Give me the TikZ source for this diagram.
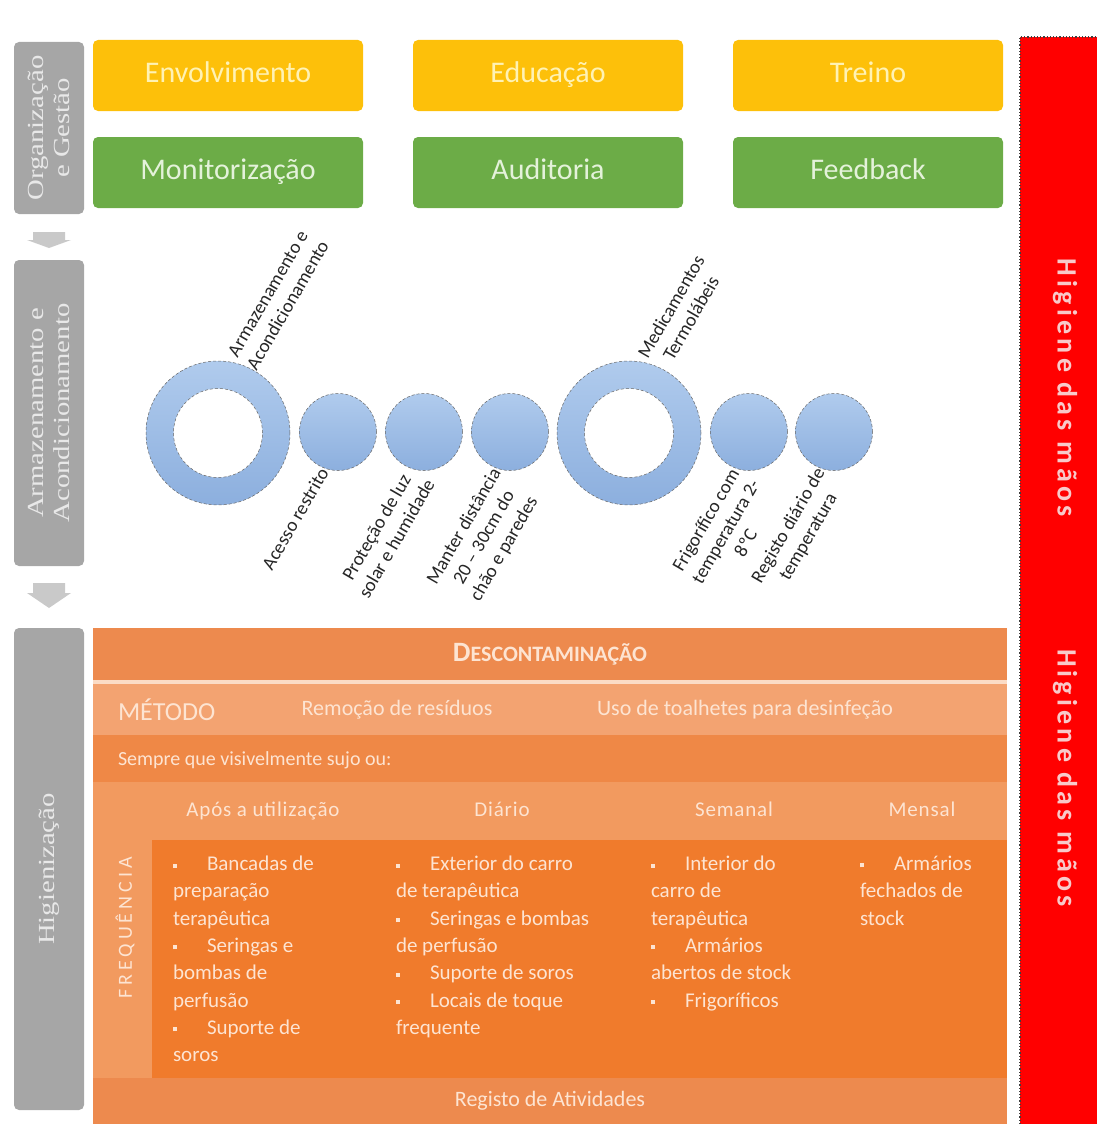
\documentclass[tikz,border=0pt]{standalone}
\usepackage{fontspec}
\setmainfont{Carlito}
\newfontfamily\barfont{Liberation Serif}
\usetikzlibrary{positioning,calc}

\definecolor{barGray}{HTML}{A6A6A6}
\definecolor{barText}{HTML}{E8E8E8}
\definecolor{arrowGray}{HTML}{C9C9C9}
\definecolor{yellowBox}{HTML}{FDC00A}
\definecolor{yellowText}{HTML}{FFF2B4}
\definecolor{greenBox}{HTML}{6CAC47}
\definecolor{greenText}{HTML}{E4F2DA}
\definecolor{ringTop}{HTML}{B0CBED}
\definecolor{ringBot}{HTML}{8CAFDE}
\definecolor{handRed}{HTML}{FF0000}
\definecolor{handText}{HTML}{F8CACA}
\definecolor{oHead}{HTML}{ED8A4E}
\definecolor{oLine}{HTML}{FBDCC6}
\definecolor{oMethod}{HTML}{F3A371}
\definecolor{oAlways}{HTML}{EF8846}
\definecolor{oFreq}{HTML}{F29A5F}
\definecolor{oInner}{HTML}{F07B2C}
\definecolor{oText}{HTML}{FDE4D2}

\newcommand{\fs}[1]{\fontsize{#1}{#1}\selectfont}
\newcommand{\itm}{\rule[0.3ex]{4pt}{4pt}\hspace{30pt}}

\begin{document}
\begin{tikzpicture}[x=1pt, y=-1pt,
  every node/.style={inner sep=0pt, outer sep=0pt},
  sidebar/.style={fill=barGray, rounded corners=5pt, minimum width=70pt, anchor=north west},
  sidetext/.style={font=\barfont\fontsize{23}{26}\selectfont, text=barText, align=center, rotate=90, xscale=1.25},
  tile/.style={rounded corners=5pt, minimum width=270pt, minimum height=71pt, font=\fs{30}, text height=20pt, text depth=6pt},
  yellowtile/.style={tile, fill=yellowBox, text=yellowText},
  greentile/.style={tile, fill=greenBox, text=greenText},
  bigring/.style={circle, minimum size=144pt, draw=black!60, densely dashed, line width=0.5pt, top color=ringTop, bottom color=ringBot},
  hole/.style={circle, minimum size=89pt, draw=black!60, densely dashed, line width=0.5pt, fill=white},
  dot/.style={circle, minimum size=77pt, draw=black!60, densely dashed, line width=0.5pt, top color=ringTop, bottom color=ringBot},
  uplabel/.style={rotate=60, anchor=south west, align=center, font=\fontsize{19}{23}\selectfont, text=black!85, inner sep=1pt},
  lowlabel/.style={rotate=60, anchor=north east, align=center, font=\fontsize{19}{23}\selectfont, text=black!85, inner sep=1pt},
  band/.style={minimum width=914pt, anchor=north west},
  otext/.style={text=oText, font=\fs{22}},
  colhead/.style={text=oText, font=\fs{21}\addfontfeature{LetterSpace=4}, text height=15pt, text depth=5pt},
  itemlist/.style={anchor=north west, align=left, text=oText, font=\fontsize{21}{27.3}\selectfont},
  handtext/.style={rotate=-90, text=handText, font=\bfseries\fs{28}\addfontfeature{LetterSpace=15}},
]
\useasboundingbox (0,0) rectangle (1097,1124);

% Side bars
\node[sidebar, minimum height=172pt] (org) at (14,42) {};
\node[sidetext] at (org.center) {Organização\\e Gestão};
\node[sidebar, minimum height=306pt] (arm) at (14,260) {};
\node[sidetext] at (arm.center) {Armazenamento e\\Acondicionamento};
\node[sidebar, minimum height=482pt] (hig) at (14,628) {};
\node[sidetext] at (hig.center) {Higienização};

% Arrows between the bars
\fill[arrowGray] ($(org.south)+(-16,18)$) -- ++(32,0) -- ++(0,8) -- ++(6,0)
  -- ($(org.south)+(0,34)$) -- ($(org.south)+(-22,26)$) -- ++(6,0) -- cycle;
\fill[arrowGray] ($(arm.south)+(-16,17)$) -- ++(32,0) -- ++(0,10) -- ++(6,0)
  -- ($(arm.south)+(0,42)$) -- ($(arm.south)+(-22,27)$) -- ++(6,0) -- cycle;

% Organisation tiles
\node[yellowtile, anchor=north west] (envolv) at (93,40) {Envolvimento};
\node[yellowtile, right=50pt of envolv] (educ) {Educação};
\node[yellowtile, right=50pt of educ] (treino) {Treino};
\node[greentile, below=26pt of envolv] (monit) {Monitorização};
\node[greentile, below=26pt of educ] (audit) {Auditoria};
\node[greentile, below=26pt of treino] (feedb) {Feedback};

% Storage circles
\node[bigring] (ringA) at (218,433) {};
\node[hole] (holeA) at (ringA.center) {};
\node[dot] (restrito) at (338,432) {};
\node[dot] (luz) at (424,432) {};
\node[dot] (distancia) at (510,432) {};
\node[bigring] (ringB) at (629,433) {};
\node[hole] (holeB) at (ringB.center) {};
\node[dot] (frigo) at (749,432) {};
\node[dot] (regtemp) at (834,432) {};

\node[uplabel] at (ringA.57) {Armazenamento e\\Acondicionamento};
\node[uplabel] at (ringB.57) {Medicamentos\\Termolábeis};
\node[lowlabel] at (restrito.238) {Acesso restrito};
\node[lowlabel] at (luz.238) {Proteção de luz\\solar e humidade};
\node[lowlabel] at (distancia.238) {Manter distância\\20 – 30cm do\\chão e paredes};
\node[lowlabel] at (frigo.238) {Frigorífico com\\temperatura 2-\\8ºC};
\node[lowlabel] at (regtemp.238) {Registo diário de\\temperatura};

% Hand hygiene bar
\node[fill=handRed, minimum width=77pt, minimum height=1087pt, anchor=north west] (hands) at (1020,37) {};
\draw[black!75, dotted, line width=1.2pt] (hands.south west) -- (hands.north west) -- (hands.north east);
\node[handtext] at (1065,388) {Higiene das mãos};
\node[handtext] at (1065,778) {Higiene das mãos};

% Decontamination table
\node[band, fill=oHead, minimum height=52pt, text=oText, font=\bfseries] (descont) at (93,628)
  {{\fs{28}D}{\fs{22}ESCONTAMINAÇÃO}};
\node[band, fill=oLine, minimum height=4pt, below=0pt of descont] (divider) {};
\node[band, fill=oMethod, minimum height=51pt, below=0pt of divider] (metodo) {};
\node[band, fill=oAlways, minimum height=47pt, below=0pt of metodo] (sempre) {};
\node[band, fill=oFreq, minimum height=296pt, below=0pt of sempre] (freq) {};
\node[fill=oInner, minimum width=855pt, minimum height=238pt, anchor=south east] (inner) at (freq.south east) {};
\node[band, fill=oHead, minimum height=46pt, below=0pt of freq, otext] (atividades) {Registo de Atividades};

\node[otext, font=\fs{26}, anchor=west] at (118,710) {MÉTODO};
\node[otext] at (397,710) {Remoção de resíduos};
\node[otext] at (745,710) {Uso de toalhetes para desinfeção};
\node[otext, font=\fs{20}, anchor=west] at (118,760) {Sempre que visivelmente sujo ou:};

\node[colhead] at (263,811) {Após a utilização};
\node[colhead] at (502,811) {Diário};
\node[colhead] at (734,811) {Semanal};
\node[colhead] at (922,811) {Mensal};
\node[otext, rotate=90, font=\fs{20}\addfontfeature{LetterSpace=20}] at (125,928) {FREQUÊNCIA};

\node[itemlist] (afteruse) at (173,856)
  {\itm Bancadas de\\preparação\\terapêutica\\\itm Seringas e\\bombas de\\perfusão\\\itm Suporte de\\soros};
\node[itemlist] (daily) at (396,856)
  {\itm Exterior do carro\\de terapêutica\\\itm Seringas e bombas\\de perfusão\\\itm Suporte de soros\\\itm Locais de toque\\frequente};
\node[itemlist] (weekly) at (651,856)
  {\itm Interior do\\carro de\\terapêutica\\\itm Armários\\abertos de stock\\\itm Frigoríficos};
\node[itemlist] (monthly) at (860,856)
  {\itm Armários\\fechados de\\stock};
\end{tikzpicture}
\end{document}
